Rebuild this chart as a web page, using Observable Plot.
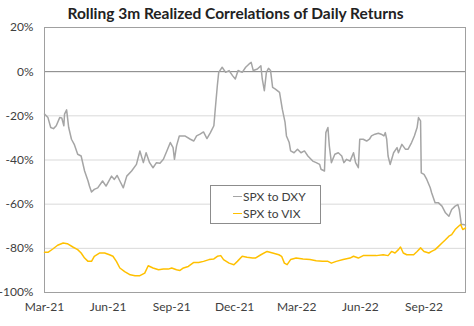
<!DOCTYPE html>
<html>
<head>
<meta charset="utf-8">
<script src="https://cdn.jsdelivr.net/npm/d3@7"></script>
<script src="https://cdn.jsdelivr.net/npm/@observablehq/plot@0.6"></script>
<style>
  html, body { margin: 0; padding: 0; background: #fff; }
  #wrap { position: relative; width: 474px; height: 326px; font-family: Lato, "Open Sans", sans-serif; }
  #title { position: absolute; left: 0; top: 0; width: 471px; height: 26px; line-height: 26px; text-align: center; font-weight: bold; font-size: 15.5px; color: #222; z-index: 2; }
  #legend { position: absolute; left: 210px; top: 185px; width: 109px; height: 37px; border: 1px solid #8c8c8c; background: #fff; font-size: 12px; color: #404040; }
  .item { position: absolute; left: 22px; height: 14px; line-height: 14px; white-space: nowrap; }
  .swatch { display: inline-block; width: 9px; height: 0; vertical-align: middle; margin-right: 1px; position: relative; top: -1px; }
</style>
</head>
<body>
<div id="wrap">
  <div id="chart"></div>
  <div id="title">Rolling 3m Realized Correlations of Daily Returns</div>
  <div id="legend">
    <div class="item" style="top:4px"><span class="swatch" style="border-top:1.5px solid #A5A5A5"></span>SPX to DXY</div>
    <div class="item" style="top:21px"><span class="swatch" style="border-top:1.5px solid #FFC000"></span>SPX to VIX</div>
  </div>
</div>
<script>
const seriesNames = ["SPX to DXY", "SPX to VIX"];
const yTicks = [20, 0, -20, -40, -60, -80, -100];
const xTickDates = ["2021-03-01","2021-06-01","2021-09-01","2021-12-01","2022-03-01","2022-06-01","2022-09-01"];
const xDomain = ["2021-03-01", "2022-10-31"];

const dxyDates = ["2021-03-01","2021-03-06","2021-03-10","2021-03-14","2021-03-18","2021-03-23","2021-03-26","2021-03-29","2021-03-30","2021-04-02","2021-04-05","2021-04-09","2021-04-13","2021-04-18","2021-04-23","2021-04-28","2021-05-03","2021-05-05","2021-05-08","2021-05-12","2021-05-17","2021-05-24","2021-05-29","2021-06-06","2021-06-10","2021-06-14","2021-06-18","2021-06-23","2021-06-28","2021-07-05","2021-07-12","2021-07-17","2021-07-22","2021-07-26","2021-07-31","2021-08-05","2021-08-10","2021-08-15","2021-08-20","2021-08-25","2021-08-30","2021-09-03","2021-09-05","2021-09-08","2021-09-12","2021-09-20","2021-09-28","2021-10-03","2021-10-07","2021-10-12","2021-10-17","2021-10-22","2021-10-27","2021-11-01","2021-11-03","2021-11-06","2021-11-08","2021-11-13","2021-11-18","2021-11-23","2021-11-28","2021-12-02","2021-12-06","2021-12-12","2021-12-17","2021-12-22","2021-12-25","2021-12-28","2022-01-03","2022-01-08","2022-01-10","2022-01-13","2022-01-16","2022-01-19","2022-01-22","2022-01-25","2022-01-29","2022-02-04","2022-02-08","2022-02-12","2022-02-14","2022-02-18","2022-02-20","2022-02-25","2022-03-02","2022-03-07","2022-03-12","2022-03-17","2022-03-24","2022-03-29","2022-04-03","2022-04-05","2022-04-10","2022-04-12","2022-04-15","2022-04-17","2022-04-20","2022-04-25","2022-04-30","2022-05-05","2022-05-08","2022-05-12","2022-05-17","2022-05-22","2022-05-25","2022-05-29","2022-05-31","2022-06-05","2022-06-10","2022-06-14","2022-06-17","2022-06-22","2022-06-27","2022-07-01","2022-07-05","2022-07-07","2022-07-09","2022-07-11","2022-07-14","2022-07-19","2022-07-24","2022-07-26","2022-07-31","2022-08-05","2022-08-09","2022-08-14","2022-08-18","2022-08-22","2022-08-24","2022-08-27","2022-08-28","2022-09-01","2022-09-05","2022-09-10","2022-09-12","2022-09-17","2022-09-22","2022-09-27","2022-10-02","2022-10-07","2022-10-11","2022-10-16","2022-10-20","2022-10-22","2022-10-25","2022-10-28","2022-10-31"];
const dxyValues = [-19.2,-20.8,-25.3,-25.8,-24.5,-20.8,-21,-24.5,-19.2,-17.3,-25.3,-30.6,-32.9,-37.4,-38.2,-45,-49.5,-51.8,-54.5,-53.3,-52.6,-49.5,-51.8,-47.3,-48.8,-47,-49.5,-52.6,-47.3,-45,-42,-35.9,-41.2,-36.7,-41.2,-43.5,-41.2,-41.5,-39.7,-35.9,-32.1,-34.4,-39.7,-33.6,-29.1,-29.1,-30.6,-31.4,-29.1,-28.3,-27.3,-30.3,-27.6,-24.5,-17,-6.4,-0.3,2,-0.3,0.5,-1.8,-3.3,0.5,-0.3,2,3.5,4.2,0.5,1.2,2.7,-3.3,-8.6,-0.3,1.5,0.5,-7.1,-7.9,-9.4,-17,-23,-29.1,-32.1,-35.9,-36.7,-35.1,-36.7,-35.9,-38.2,-40.5,-41.2,-42,-44.2,-45,-27.6,-25.3,-33.6,-41.2,-37.4,-36.7,-38.2,-41.2,-39.7,-40.5,-36.7,-41.2,-43.5,-30.6,-30.6,-31.4,-30.6,-29.1,-28.3,-27.9,-28.3,-29.1,-27.6,-30.6,-38.2,-42,-36.7,-34.4,-36.7,-32.9,-35.1,-35.1,-32.1,-29.1,-25.3,-20.8,-22.3,-45.8,-46.5,-48.8,-52.6,-54.8,-59.4,-59.4,-60.9,-63.9,-65.5,-62.4,-60.9,-60.2,-62.4,-69.2,-69.2,-69.5];

const vixDates = ["2021-03-01","2021-03-06","2021-03-13","2021-03-20","2021-03-28","2021-04-03","2021-04-11","2021-04-18","2021-04-23","2021-04-28","2021-05-03","2021-05-08","2021-05-12","2021-05-20","2021-05-27","2021-06-03","2021-06-08","2021-06-13","2021-06-18","2021-06-25","2021-07-03","2021-07-10","2021-07-17","2021-07-24","2021-07-29","2021-08-05","2021-08-13","2021-08-20","2021-08-27","2021-09-01","2021-09-08","2021-09-13","2021-09-18","2021-09-25","2021-10-03","2021-10-10","2021-10-17","2021-10-25","2021-11-01","2021-11-06","2021-11-11","2021-11-15","2021-11-23","2021-11-30","2021-12-05","2021-12-12","2021-12-19","2021-12-27","2021-12-31","2022-01-08","2022-01-17","2022-01-25","2022-02-03","2022-02-07","2022-02-11","2022-02-15","2022-02-20","2022-02-28","2022-03-10","2022-03-20","2022-03-29","2022-04-07","2022-04-15","2022-04-20","2022-04-27","2022-05-07","2022-05-17","2022-05-22","2022-05-29","2022-06-05","2022-06-14","2022-06-24","2022-07-04","2022-07-11","2022-07-16","2022-07-21","2022-07-26","2022-07-29","2022-08-02","2022-08-07","2022-08-17","2022-08-22","2022-08-27","2022-09-01","2022-09-08","2022-09-12","2022-09-17","2022-09-22","2022-09-27","2022-10-02","2022-10-07","2022-10-11","2022-10-16","2022-10-21","2022-10-24","2022-10-27","2022-10-31"];
const vixValues = [-81.8,-81.8,-80.3,-78.6,-77.6,-77.9,-79.4,-80.6,-82.1,-84.4,-85.9,-85.9,-83.6,-82.1,-82.1,-82.9,-83.6,-85.9,-88.9,-90.5,-92,-92.4,-92.4,-91.2,-87.9,-88.9,-89.7,-89.4,-89.4,-88.9,-89.7,-90,-88.9,-88.2,-86.4,-86.4,-85.9,-85.1,-84.8,-83.6,-83.3,-85.1,-86.7,-87.4,-85.9,-83.6,-84,-84.4,-84.4,-82.9,-81.4,-82.1,-82.9,-83.6,-86.7,-87.4,-85.1,-84.4,-84.8,-85.1,-85.6,-85.9,-85.9,-86.7,-85.9,-85.1,-84.4,-83.6,-84.4,-83.3,-83.3,-83.3,-82.9,-83.3,-81.4,-82.1,-80.6,-79.4,-82.1,-82.9,-82.9,-81.4,-79.8,-81.4,-82.1,-81.4,-80.6,-79.1,-77.6,-76.1,-74.5,-73.8,-71.5,-70,-69.2,-71.5,-70.8];

const parse = d3.utcParse("%Y-%m-%d");
const dxy = dxyDates.map((d, i) => ({date: parse(d), value: dxyValues[i], series: seriesNames[0]}));
const vix = vixDates.map((d, i) => ({date: parse(d), value: vixValues[i], series: seriesNames[1]}));

const chart = Plot.plot({
  width: 474,
  height: 326,
  marginTop: 27,
  marginBottom: 34,
  marginLeft: 44,
  marginRight: 9,
  style: {fontFamily: "Lato, 'Open Sans', sans-serif", fontSize: "12px", color: "#404040", background: "#fff"},
  x: {type: "utc", domain: xDomain.map(parse), ticks: xTickDates.map(parse), tickFormat: d3.utcFormat("%b-%y"), tickSize: 0, tickPadding: 10, label: null},
  y: {domain: [-100, 20], ticks: yTicks, tickFormat: d => d + "%", tickSize: 0, tickPadding: 11, label: null},
  marks: [
    Plot.ruleY([-20, -40, -60, -80], {stroke: "#d9d9d9", strokeWidth: 1}),
    Plot.ruleY([0], {stroke: "#7f7f7f", strokeWidth: 1}),
    Plot.frame({stroke: "#a0a0a0", strokeWidth: 1}),
    Plot.line(dxy, {x: "date", y: "value", stroke: "#A5A5A5", strokeWidth: 1.5}),
    Plot.line(vix, {x: "date", y: "value", stroke: "#FFC000", strokeWidth: 1.5})
  ]
});
document.getElementById("chart").appendChild(chart);
</script>
</body>
</html>
